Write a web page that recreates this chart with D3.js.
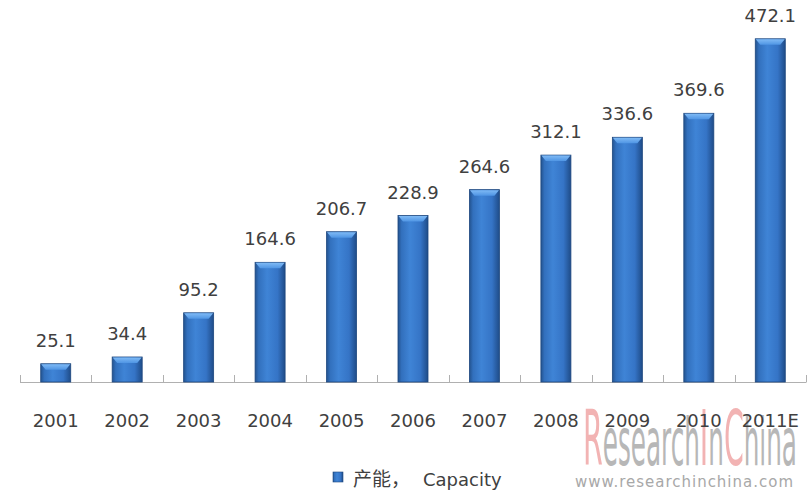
<!DOCTYPE html>
<html><head><meta charset="utf-8">
<script src="https://cdn.jsdelivr.net/npm/d3@7"></script>
<style>html,body{margin:0;padding:0;background:#fff;}svg{display:block;}</style>
</head><body>
<svg id="chart" width="812" height="492"></svg>
<script>
const categories = ["2001","2002","2003","2004","2005","2006","2007","2008","2009","2010","2011E"];
const capacity = [25.1,34.4,95.2,164.6,206.7,228.9,264.6,312.1,336.6,369.6,472.1];
const seriesName = "产能，Capacity";

const svg = d3.select("#chart");
const defs = svg.append("defs");
const g1 = defs.append("linearGradient").attr("id","barGrad").attr("x1","0").attr("x2","1").attr("y1","0").attr("y2","0");
[["0%","#23538f"],["12%","#3270bd"],["40%","#3f84d6"],["75%","#3574c6"],["100%","#1f4c88"]].forEach(s=>g1.append("stop").attr("offset",s[0]).attr("stop-color",s[1]));
const g2 = defs.append("linearGradient").attr("id","bevGrad").attr("x1","0").attr("x2","0").attr("y1","0").attr("y2","1");
[["0%","#7fbaf5"],["100%","#4f95e4"]].forEach(s=>g2.append("stop").attr("offset",s[0]).attr("stop-color",s[1]));

const x = d3.scaleBand().domain(categories).range([20,806]).paddingInner(0.58).paddingOuter(0.29);
const y = d3.scaleLinear().domain([0,500]).range([382,18.5]);
const bw = x.bandwidth();
const gap = x.step()-bw;

// axis
svg.append("line").attr("x1",20).attr("x2",806).attr("y1",382.5).attr("y2",382.5).attr("stroke","#b0b0b0").attr("stroke-width",1.2);
const bounds = categories.map(c=>x(c)-gap/2).concat([x(categories[categories.length-1])+bw+gap/2]);
svg.selectAll("line.tick").data(bounds).enter().append("line")
  .attr("x1",d=>Math.round(d)+0.5).attr("x2",d=>Math.round(d)+0.5).attr("y1",375).attr("y2",382.5)
  .attr("stroke","#b0b0b0").attr("stroke-width",1);

// bars
const bars = svg.selectAll("g.bar").data(categories).enter().append("g");
bars.append("rect").attr("x",d=>x(d)).attr("width",bw)
  .attr("y",(d,i)=>y(capacity[i])).attr("height",(d,i)=>y(0)-y(capacity[i]))
  .attr("fill","url(#barGrad)").attr("stroke","#1d477f").attr("stroke-width",0.8);
bars.append("path").attr("fill","url(#bevGrad)")
  .attr("d",(d,i)=>{const x0=x(d), t=y(capacity[i]); return `M${x0+0.5},${t+0.5} L${x0+bw-0.5},${t+0.5} L${x0+bw-5},${t+6} L${x0+5},${t+6} Z`;});

// value labels
svg.selectAll("text.val").data(categories).enter().append("text")
  .attr("x",d=>x(d)+bw/2).attr("y",(d,i)=>y(capacity[i])-17)
  .attr("text-anchor","middle").attr("font-family","DejaVu Sans, Verdana, sans-serif").attr("font-size",18)
  .attr("fill","#404040").text((d,i)=>capacity[i].toFixed(1));

// watermark
const wm = svg.append("text").attr("x",583).attr("y",465).attr("font-family","Liberation Sans Narrow, DejaVu Sans Condensed, Liberation Sans, sans-serif")
  .attr("textLength",214).attr("lengthAdjust","spacingAndGlyphs").attr("opacity",0.75);
[["R","#ee9a9a",76],["esearch","#a0a0a0",66],["I","#ee9a9a",76],["n","#a0a0a0",66],["C","#ee9a9a",76],["hina","#a0a0a0",66]]
  .forEach(p=>wm.append("tspan").attr("fill",p[1]).attr("font-size",p[2]).text(p[0]));
svg.append("text").attr("x",575).attr("y",487).attr("font-family","DejaVu Sans, sans-serif").attr("font-size",15)
  .attr("fill","#a8a8a8").attr("textLength",218).attr("lengthAdjust","spacing").text("www.researchinchina.com");

// category labels
svg.selectAll("text.cat").data(categories).enter().append("text")
  .attr("x",d=>x(d)+bw/2).attr("y",427).attr("text-anchor","middle")
  .attr("font-family","DejaVu Sans, Verdana, sans-serif").attr("font-size",18).attr("fill","#404040").text(d=>d);

// legend
svg.append("rect").attr("x",333).attr("y",472).attr("width",10).attr("height",10).attr("fill","url(#barGrad)").attr("stroke","#1d477f").attr("stroke-width",0.6);
const lg = svg.append("text").attr("x",353).attr("y",486).attr("font-family","DejaVu Sans, Noto Sans CJK SC, sans-serif").attr("font-size",18).attr("fill","#404040");
const parts = seriesName.split("，");
lg.append("tspan").attr("font-family","Noto Sans CJK SC").attr("font-size",19).text(parts[0]+"，");
lg.append("tspan").attr("x",423).text(parts[1]);
</script>
</body></html>
